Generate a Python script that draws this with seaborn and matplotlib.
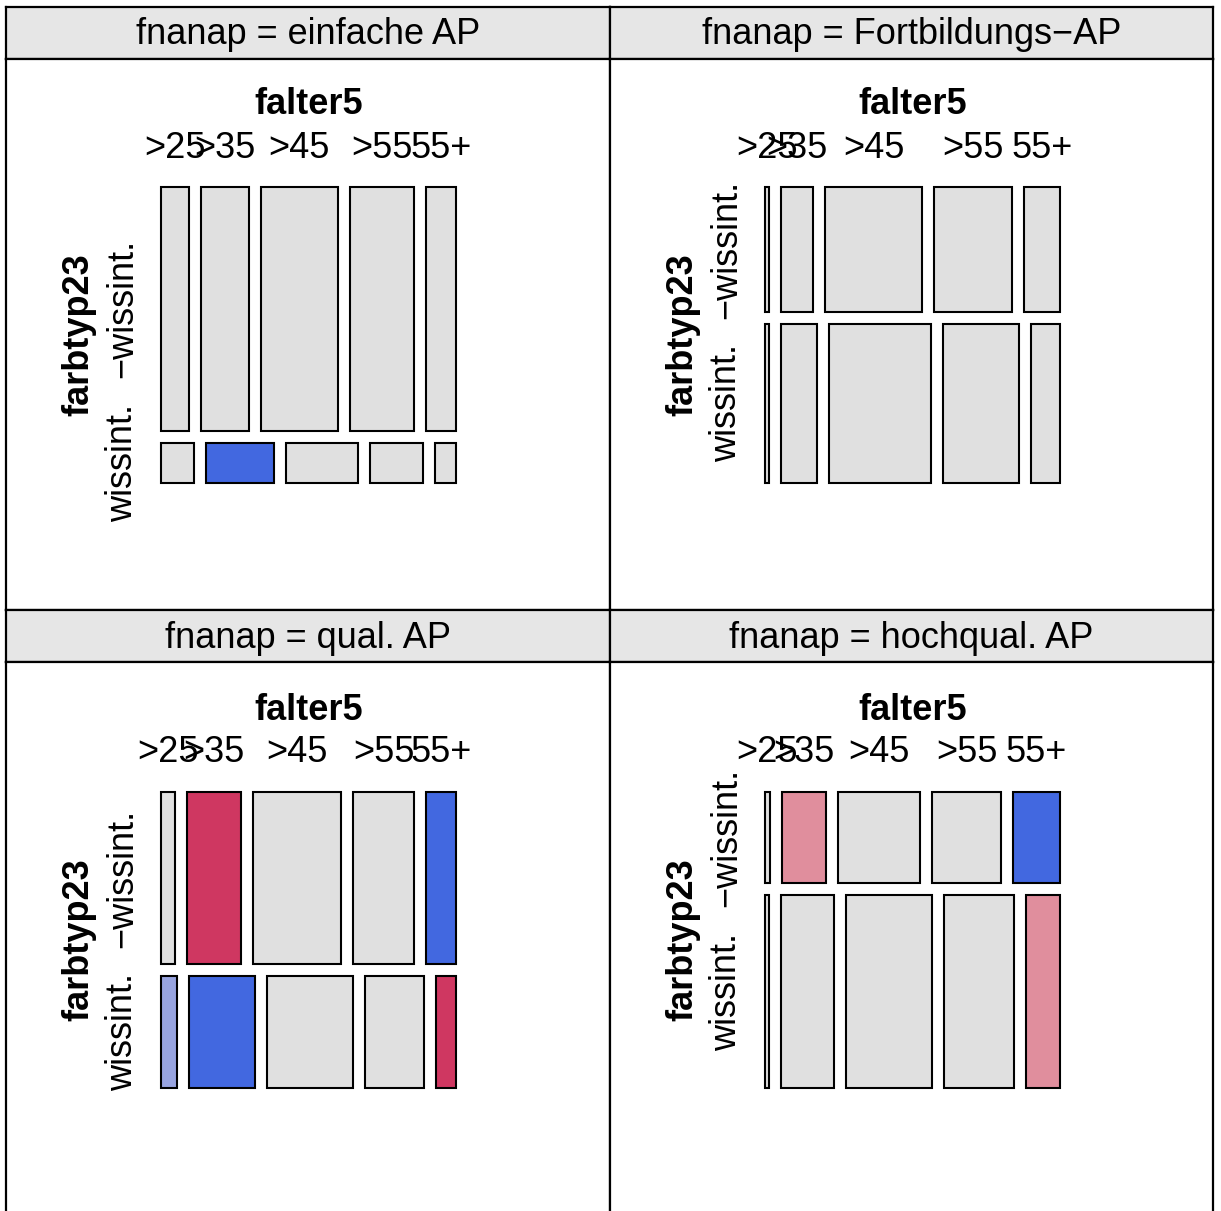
"""Mosaikplots farbtyp23 x falter5, bedingt nach fnanap (2x2 Gitter)."""
import matplotlib
matplotlib.use("Agg")
import matplotlib.pyplot as plt
import numpy as np
import seaborn as sns

sns.set_theme(style="white")
plt.rcParams["font.family"] = ["Liberation Sans", "DejaVu Sans"]
plt.rcParams["text.color"] = "black"

FALTER5 = [">25", ">35", ">45", ">55", "55+"]
FARBTYP23 = ["\u2212wissint.", "wissint."]
FNANAP = ["einfache AP", "Fortbildungs\u2212AP", "qual. AP", "hochqual. AP"]

# Häufigkeiten: Zeilen = farbtyp23, Spalten = falter5
N_EINFACHE = [[57, 98, 157, 131, 61], [11, 23, 24, 18, 7]]
N_FORTBILD = [[3, 26, 79, 63, 29], [4, 37, 106, 79, 30]]
N_QUAL = [[17, 66, 106, 75, 36], [13, 52, 68, 46, 16]]
N_HOCHQUAL = [[2, 18, 33, 28, 19], [3, 46, 73, 60, 29]]

# Residuen-Stufe: +2/-2 stark, +1/-1 schwach, 0 neutral
R_EINFACHE = [[0, 0, 0, 0, 0], [0, 2, 0, 0, 0]]
R_FORTBILD = [[0, 0, 0, 0, 0], [0, 0, 0, 0, 0]]
R_QUAL = [[0, -2, 0, 0, 2], [1, 2, 0, 0, -2]]
R_HOCHQUAL = [[0, -1, 0, 0, 2], [0, 0, 0, 0, -1]]

PAL = {2: "#4268E0", 1: "#98A4E0", 0: "#E0E0E0", -1: "#E08E9D", -2: "#CF3761"}

FIG_W, FIG_H = 1221, 1211
COLS = [(6, 610), (610, 1213)]
ROWS = [((7, 59), (59, 610)), ((610, 662), (662, 1213))]
MX0, MW, MH, GAP = 155, 295, 296, 12
FS = 26


def px_axes(fig, x0, x1, y0, y1):
    ax = fig.add_axes([x0 / FIG_W, 1 - y1 / FIG_H, (x1 - x0) / FIG_W, (y1 - y0) / FIG_H])
    ax.set_xlim(0, x1 - x0)
    ax.set_ylim(y1 - y0, 0)
    ax.set_xticks([])
    ax.set_yticks([])
    for s in ax.spines.values():
        s.set_color("black")
        s.set_linewidth(1.6)
    return ax


def draw_mosaic(ax, counts, shade, my0):
    counts = np.asarray(counts, float)
    row_tot = counts.sum(axis=1)
    heights = (MH - GAP * (len(row_tot) - 1)) * row_tot / row_tot.sum()
    y = my0
    for i, row in enumerate(counts):
        widths = (MW - GAP * (len(row) - 1)) * row / row.sum()
        lefts = MX0 + np.concatenate([[0], np.cumsum(widths[:-1] + GAP)])
        ax.bar(lefts, heights[i], width=widths, bottom=y, align="edge",
               color=[PAL[s] for s in shade[i]], edgecolor="black", linewidth=1.5)
        if i == 0:
            for lx, lab in zip(lefts + widths / 2, FALTER5):
                ax.text(lx, my0 - 39, lab, ha="center", va="center", fontsize=FS)
        ax.text(117, y + heights[i] / 2, FARBTYP23[i], rotation=90,
                ha="center", va="center", fontsize=FS)
        y += heights[i] + GAP
    ax.text(MX0 + MW / 2, my0 - 82, "falter5", ha="center", va="center",
            fontsize=FS, fontweight="bold")
    ax.text(73, my0 + MH / 2, "farbtyp23", rotation=90, ha="center",
            va="center", fontsize=FS, fontweight="bold")


def main():
    fig = plt.figure(figsize=(FIG_W / 100, FIG_H / 100), dpi=100)
    daten = [(N_EINFACHE, R_EINFACHE), (N_FORTBILD, R_FORTBILD),
             (N_QUAL, R_QUAL), (N_HOCHQUAL, R_HOCHQUAL)]
    for k, (counts, shade) in enumerate(daten):
        r, c = divmod(k, 2)
        (sy0, sy1), (py0, py1) = ROWS[r]
        x0, x1 = COLS[c]
        strip = px_axes(fig, x0, x1, sy0, sy1)
        strip.set_facecolor("#E6E6E6")
        strip.text((x1 - x0) / 2, (sy1 - sy0) / 2 + 2, f"fnanap = {FNANAP[k]}",
                   ha="center", va="center", fontsize=FS)
        ax = px_axes(fig, x0, x1, py0, py1)
        draw_mosaic(ax, counts, shade, 128 if r == 0 else 130)
    fig.savefig("out.png", dpi=100)
    plt.close(fig)


if __name__ == "__main__":
    main()
